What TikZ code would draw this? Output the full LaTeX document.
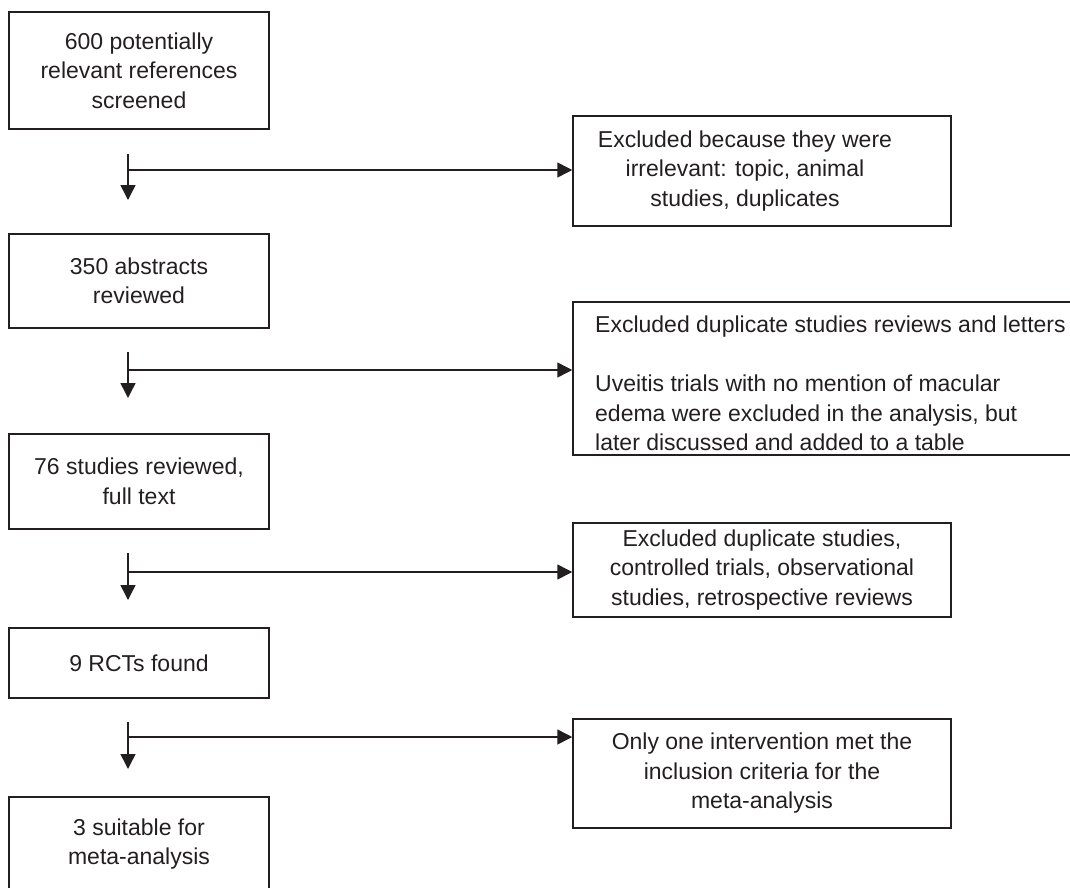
\documentclass[tikz,border=0pt]{standalone}
\usepackage{fontspec}
\setmainfont{Liberation Sans}
\usetikzlibrary{arrows.meta}
\definecolor{ink}{RGB}{35,31,32}
\begin{document}
\begin{tikzpicture}[x=1pt,y=1pt,
  box/.style={draw=ink, line width=1.5pt, rectangle, inner sep=0pt, align=center,
    text=ink, font=\fontsize{23}{29.5}\selectfont},
  lbox/.style={box, minimum width=260pt},
  rbox/.style={box, minimum width=378pt},
  arr/.style={draw=ink, line width=1.5pt, -{Triangle[width=15pt,length=15pt]}},
  txt/.style={text=ink, font=\fontsize{23}{29.5}\selectfont, inner sep=0pt, align=left}
]
\useasboundingbox (0,0) rectangle (1070,-888);

% left column
\node[lbox, minimum height=117pt] (b1) at (139,-70.5) {600 potentially\\relevant references\\screened};
\node[lbox, minimum height=94pt] (b2) at (139,-281) {350 abstracts\\reviewed};
\node[lbox, minimum height=95pt] (b3) at (139,-481.5) {76 studies reviewed,\\full text};
\node[lbox, minimum height=70pt] (b4) at (139,-663) {9 RCTs found};
\node[lbox, minimum height=94pt] (b5) at (139,-844) {3 suitable for\\meta-analysis};

% right column
\node[rbox, minimum height=110pt] (r1) at (762,-171)
  {\begin{tabular}{@{}c@{\hspace{34pt}}}Excluded because they were\\irrelevant: topic, animal\\studies, duplicates\end{tabular}};
\node[box, minimum width=510pt, minimum height=153pt] (r2) at (828,-378.5) {};
\node[txt, anchor=west] (r2t) at (595,-383.6)
  {Excluded duplicate studies reviews and letters\\[29.5pt]Uveitis trials with no mention of macular\\edema were excluded in the analysis, but\\later discussed and added to a table};
\node[rbox, minimum height=94pt] (r3) at (762,-570)
  {Excluded duplicate studies,\\controlled trials, observational\\studies, retrospective reviews};
\node[rbox, minimum height=109pt] (r4) at (762,-773.5)
  {Only one intervention met the\\inclusion criteria for the\\meta-analysis};

% connectors
\coordinate (s1) at (128,-154); \coordinate (j1) at (128,-170); \coordinate (t1) at (128,-200);
\coordinate (s2) at (128,-352); \coordinate (j2) at (128,-370); \coordinate (t2) at (128,-398);
\coordinate (s3) at (128,-553); \coordinate (j3) at (128,-572); \coordinate (t3) at (128,-600);
\coordinate (s4) at (128,-722); \coordinate (j4) at (128,-737); \coordinate (t4) at (128,-769);

\draw[arr] (s1) -- (t1);
\draw[arr] (j1) -- (j1 -| r1.west);
\draw[arr] (s2) -- (t2);
\draw[arr] (j2) -- (j2 -| r2.west);
\draw[arr] (s3) -- (t3);
\draw[arr] (j3) -- (j3 -| r3.west);
\draw[arr] (s4) -- (t4);
\draw[arr] (j4) -- (j4 -| r4.west);
\end{tikzpicture}
\end{document}
